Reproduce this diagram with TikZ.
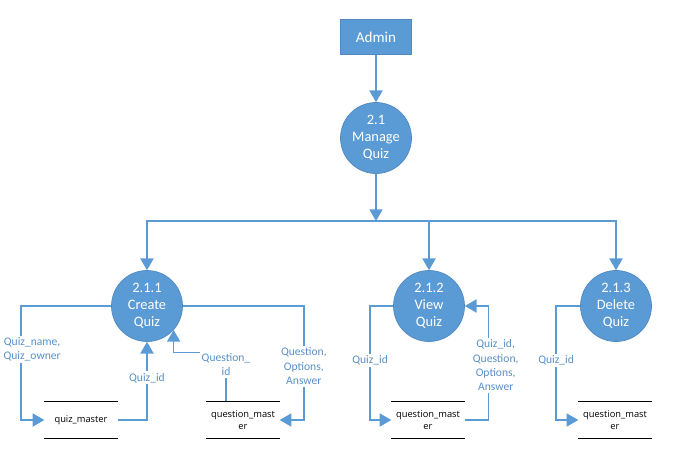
\documentclass[tikz,border=0pt]{standalone}
\usepackage{fontspec}
\setmainfont{Carlito}
\newfontfamily\storefont{Open Sans}
\usetikzlibrary{arrows,shapes}
\definecolor{dfdblue}{HTML}{5B9BD5}
\definecolor{dfdline}{HTML}{4F88BE}
\definecolor{dfdtext}{HTML}{5A90C8}
\tikzstyle{process} = [circle, fill=dfdblue, draw=dfdline, thin, text=white,
    minimum size=1.42cm, inner sep=0pt, align=center,
    font=\fontsize{8.2}{9.6}\selectfont]
\tikzstyle{entity} = [rectangle, fill=dfdblue, draw=dfdline, thin, text=white,
    minimum width=1.42cm, minimum height=0.7cm, font=\fontsize{8.6}{10}\selectfont]
\tikzstyle{store} = [rectangle, text=black, minimum width=1.44cm,
    minimum height=0.72cm, inner sep=0pt, align=center,
    font=\storefont\fontsize{5.3}{7.2}\selectfont]
\tikzstyle{flowlabel} = [fill=white, text=dfdtext, align=center, inner sep=1pt,
    font=\fontsize{6.6}{8.2}\selectfont]

\begin{document}
\begin{tikzpicture}[->,>=triangle 60,line width=0.8pt,color=dfdblue,
                    x=0.02cm,y=-0.02cm]
  \useasboundingbox (0,0) rectangle (681,461);

  \node[entity]  (admin) at (376,37)  {Admin};
  \node[process] (mq)    at (376,138) {2.1\\Manage\\Quiz};
  \coordinate    (split) at (376,221);

  \node[process] (cq) at (147,306) {2.1.1\\Create\\Quiz};
  \node[process] (vq) at (429,306) {2.1.2\\View\\Quiz};
  \node[process] (dq) at (616,306) {2.1.3\\Delete\\Quiz};

  \node[store] (qm)  at (81,420)  {quiz\_master};
  \node[store] (qs1) at (243,420) {question\_mast\\er};
  \node[store] (qs2) at (428,420) {question\_mast\\er};
  \node[store] (qs3) at (615,420) {question\_mast\\er};

  % store lines
  \foreach \s in {qm,qs1,qs2,qs3}
    \draw[-,black,line width=0.5pt] (\s.north west) -- (\s.north east)
                                    (\s.south west) -- (\s.south east);

  \draw (admin) -- (mq);
  \draw (mq) -- (split);
  \draw (split) -| (cq);
  \draw (split) -| (vq);
  \draw (split) -| (dq);

  % create quiz
  \draw (cq.west) -- ++(-90,0) |- node[flowlabel,pos=0.19,xshift=0.22cm] (l1)
        {Quiz\_name,\\Quiz\_owner} (qm.west);
  \draw (qm.east) -| node[flowlabel,pos=0.77] (l2) {Quiz\_id} (cq);
  \draw ([xshift=-0.34cm]qs1.north) -- node[flowlabel,pos=0.75] (l3)
        {Question\_\\id} ++(0,-49) -| (cq.-42);
  \draw (cq.east) -- ++(121,0) |- node[flowlabel,pos=0.265] (l4)
        {Question,\\Options,\\Answer} (qs1.east);

  % view quiz
  \draw (vq.west) -- ++(-23,0) |- node[flowlabel,pos=0.24] (l5)
        {Quiz\_id} (qs2.west);
  \draw (qs2.east) -- ++(24,0) |- node[flowlabel,pos=0.24,xshift=0.14cm] (l6)
        {Quiz\_id,\\Question,\\Options,\\Answer} (vq.east);

  % delete quiz
  \draw (dq.west) -- ++(-24,0) |- node[flowlabel,pos=0.24] (l7)
        {Quiz\_id} (qs3.west);
\end{tikzpicture}
\end{document}
